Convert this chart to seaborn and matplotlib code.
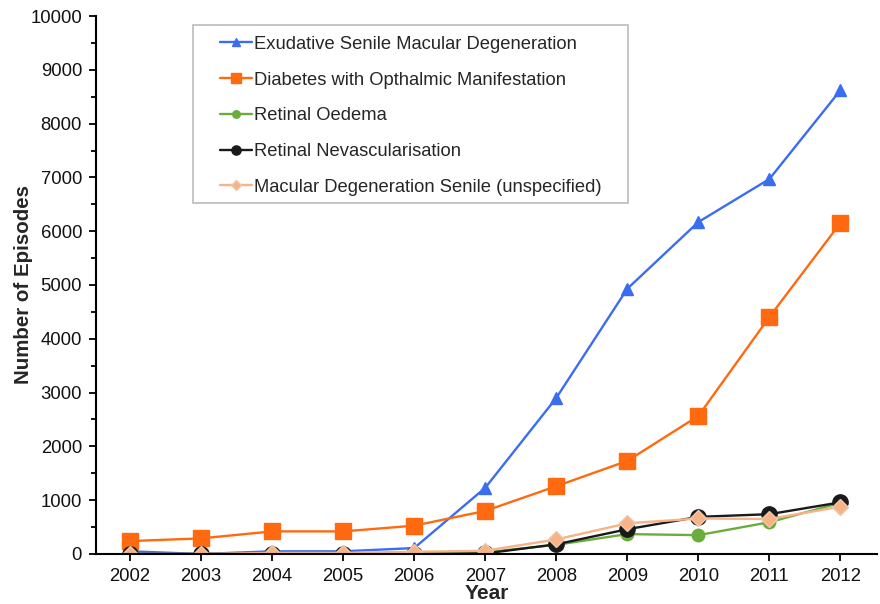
import matplotlib
matplotlib.use("Agg")
import matplotlib.pyplot as plt
from matplotlib.patches import Rectangle
import seaborn as sns
import pandas as pd

years = [2002, 2003, 2004, 2005, 2006, 2007, 2008, 2009, 2010, 2011, 2012]
exudative = [50, 0, 50, 50, 110, 1230, 2900, 4930, 6170, 6970, 8620]
diabetes = [240, 290, 420, 420, 526, 800, 1260, 1730, 2565, 4405, 6152]
oedema = [0, 0, 0, 0, 10, 30, 170, 370, 350, 590, 950]
nevasc = [0, 0, 0, 0, 0, 10, 180, 460, 690, 740, 960]
macular_unspec = [0, 0, 20, 20, 40, 60, 270, 570, 660, 650, 880]

labels = ["Exudative Senile Macular Degeneration",
          "Diabetes with Opthalmic Manifestation",
          "Retinal Oedema",
          "Retinal Nevascularisation",
          "Macular Degeneration Senile (unspecified)"]
series = [exudative, diabetes, oedema, nevasc, macular_unspec]

sns.set_theme(style="white")
plt.rcParams['font.family'] = ['Liberation Sans', 'DejaVu Sans']

fig = plt.figure(figsize=(8.8, 6.04), dpi=100)
ax = fig.add_axes([0.109, 0.0828, 0.888, 0.8907])

styles = [
    dict(color="#3a6df0", marker="^", markersize=9, markeredgecolor="#3a6df0"),
    dict(color="#ff6a10", marker="s", markersize=11, markeredgecolor="#ff6a10"),
    dict(color="#6aad3d", marker="o", markersize=9, markeredgecolor="#6aad3d"),
    dict(color="#1a1a1a", marker="o", markersize=11, markeredgecolor="#1a1a1a"),
    dict(color="#f5b387", marker="D", markersize=8, markeredgecolor="#f0c8a8"),
]

for lab, vals, st in zip(labels, series, styles):
    df = pd.DataFrame({"Year": years, "Episodes": vals})
    sns.lineplot(data=df, x="Year", y="Episodes", ax=ax, label=lab,
                 color=st["color"], marker=st["marker"], markersize=st["markersize"],
                 markeredgecolor=st["markeredgecolor"], markeredgewidth=1,
                 linewidth=1.7)

ax.set_xlim(2001.52, 2012.52)
ax.set_ylim(0, 10000)
ax.set_xticks(years)
ax.set_xticklabels([str(y) for y in years])
ax.set_yticks(range(0, 10001, 1000))
ax.set_yticks(range(500, 10000, 1000), minor=True)

for side in ["top", "right"]:
    ax.spines[side].set_visible(False)
for side in ["left", "bottom"]:
    ax.spines[side].set_color("black")
    ax.spines[side].set_linewidth(1.5)

ax.tick_params(axis="both", which="major", direction="out", length=5, width=1.3,
               color="black", labelsize=13.3, labelcolor="#111111", left=True, bottom=True)
ax.tick_params(axis="x", which="major", pad=5)
ax.tick_params(axis="y", which="major", pad=5)
ax.tick_params(axis="y", which="minor", direction="out", length=3.5, width=1.3,
               color="black", left=True)

ax.set_xlabel("Year", fontsize=15, fontweight="bold", labelpad=-0.5)
ax.set_ylabel("Number of Episodes", fontsize=14.8, fontweight="bold", labelpad=-2)

leg = ax.legend(loc="upper left", bbox_to_anchor=(0.159, 0.963), borderaxespad=0,
                fontsize=13.2, frameon=False,
                handlelength=1.75, handletextpad=0.12, labelspacing=1.02,
                borderpad=0, markerscale=0.6)
ax.add_patch(Rectangle((0.1242, 0.6524), 0.681 - 0.1242, 0.9833 - 0.6524,
                       transform=ax.transAxes, fill=True, facecolor="white",
                       edgecolor="#bbbbbb", linewidth=1.2, zorder=4))
leg.set_zorder(5)

fig.savefig("out.png", dpi=100)
